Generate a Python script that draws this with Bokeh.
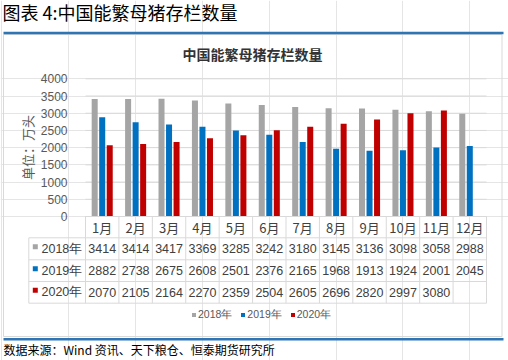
import numpy as np
from bokeh.plotting import figure
from bokeh.models import (Range1d, LinearAxis, FixedTicker, Legend, LegendItem,
                          ColumnDataSource)
from bokeh.core.properties import value
from bokeh.embed import file_html
from bokeh.resources import INLINE

# ---------------- data ----------------
months = ["1月", "2月", "3月", "4月", "5月", "6月", "7月", "8月", "9月", "10月", "11月", "12月"]
series_names = ["2018年", "2019年", "2020年"]
v2018 = [3414, 3414, 3417, 3369, 3285, 3242, 3180, 3145, 3136, 3098, 3058, 2988]
v2019 = [2882, 2738, 2675, 2608, 2501, 2376, 2165, 1968, 1913, 1924, 2001, 2045]
v2020 = [2070, 2105, 2164, 2270, 2359, 2504, 2605, 2696, 2820, 2997, 3080, None]
y_ticks = [0, 500, 1000, 1500, 2000, 2500, 3000, 3500, 4000]
page_title = "图表 4:中国能繁母猪存栏数量"
chart_title = "中国能繁母猪存栏数量"
y_label = "单位：万头"
footer = "数据来源：Wind 资讯、天下粮仓、恒泰期货研究所"

colors = ["#A5A5A5", "#0070C0", "#C00000"]
series_vals = [v2018, v2019, v2020]

# ---------------- layout (pixel geometry -> data space) ----------------
W, H = 508, 360


def fx(rx):
    return float(rx)


def fy(ry):
    return float(ry)


PL, PR, PY0, PY4000 = 85, 486, 216, 78.3
cw = (fx(PR) - fx(PL)) / 12.0
x_start = 0.5 - fx(PL) / cw
x_end = x_start + W / cw
upp = 4000.0 / (fy(PY0) - fy(PY4000))
y_top = fy(PY0) * upp
y_bottom = y_top - H * upp


def X(rx):
    return x_start + fx(rx) / cw


def Y(ry):
    return y_top - fy(ry) * upp


p = figure(width=W, height=H, x_range=Range1d(x_start, x_end), y_range=Range1d(y_bottom, y_top),
           output_backend="svg", toolbar_location=None, x_axis_location=None, y_axis_location=None,
           min_border=0, outline_line_color=None, background_fill_color="white",
           border_fill_color="white")

GRID = "#D9D9D9"
TXT = "#404040"
CJK = "Noto Sans CJK SC"
NUM = "Liberation Sans"

# outer box and blue rules
p.quad(left=[X(3)], right=[X(501.5)], top=[Y(34)], bottom=[Y(336)], fill_color=None,
       line_color=GRID, line_width=1)
p.segment(x0=[X(3), X(3)], x1=[X(503), X(503)], y0=[Y(32.5), Y(338.7)], y1=[Y(32.5), Y(338.7)],
          line_color="#2E75B6", line_width=2.5)

# grid lines
p.segment(x0=[0.5] * len(y_ticks), x1=[12.5] * len(y_ticks), y0=y_ticks, y1=y_ticks,
          line_color=GRID, line_width=1)

# bars
xs = np.arange(1, 13)
offsets = [-0.225, 0.0, 0.225]
bar_renderers = []
for vals, off, col in zip(series_vals, offsets, colors):
    top = np.array([np.nan if v is None else v for v in vals], dtype=float)
    src = ColumnDataSource(dict(x=xs + off, top=top))
    r = p.vbar(x="x", top="top", width=0.18, bottom=0, source=src, fill_color=col,
               line_color=None)
    bar_renderers.append(r)

# y axis drawn at the plot-area edge
yax = LinearAxis(fixed_location=0.5, ticker=FixedTicker(ticks=y_ticks), bounds=(0, 4000),
                 axis_line_color=None, major_tick_line_color=None, minor_tick_line_color=None,
                 major_tick_out=0, major_tick_in=0, minor_tick_out=0, minor_tick_in=0,
                 major_label_standoff=18, major_label_text_font=NUM,
                 major_label_text_font_size="12px", major_label_text_color="#595959",
                 axis_label=y_label, axis_label_text_font=CJK, axis_label_text_font_size="13px",
                 axis_label_text_font_style="normal", axis_label_text_color="#595959",
                 axis_label_standoff=1)
p.add_layout(yax, "left")

# ---------------- data table ----------------
row_edges = [216, 237.3, 259.3, 281.0, 302.7]
row_centers = [(a + b) / 2 for a, b in zip(row_edges[:-1], row_edges[1:])]
# horizontal rules
hx0 = [0.5] + [X(28.3)] * 4
hx1 = [12.5] * 5
hy = [Y(r) for r in row_edges]
p.segment(x0=hx0, x1=hx1, y0=hy, y1=hy, line_color=GRID, line_width=1)
# vertical rules
vx = [0.5 + k for k in range(13)] + [X(28.3)]
vy0 = [Y(row_edges[0])] * 13 + [Y(row_edges[1])]
vy1 = [Y(row_edges[-1])] * 14
p.segment(x0=vx, x1=vx, y0=vy0, y1=vy1, line_color=GRID, line_width=1)

# header (months)
p.text(x=xs, y=[Y(row_centers[0])] * 12, text=months, text_font=value(CJK),
       text_font_size="13px", text_color=TXT, text_align="center", text_baseline="middle")
# values
for i, vals in enumerate(series_vals):
    labels = ["" if v is None else str(v) for v in vals]
    p.text(x=xs, y=[Y(row_centers[i + 1])] * 12, text=labels, text_font=value(NUM),
           text_font_size="12.5px", text_color=TXT, text_align="center", text_baseline="middle")
# row labels with colour keys
p.scatter(x=[X(34.8)] * 3, y=[Y(c - 2) for c in row_centers[1:]], marker="square", size=5,
          fill_color=colors, line_color=None)
p.text(x=[X(41)] * 3, y=[Y(c) for c in row_centers[1:]], text=series_names, text_font=value(NUM),
       text_font_size="12.5px", text_color=TXT, text_align="left", text_baseline="middle")

# ---------------- titles and footer ----------------
p.text(x=[X(2)], y=[Y(11.5)], text=[page_title], text_font=value(CJK), text_font_size="18px",
       text_color="#000000", text_align="left", text_baseline="middle")
p.text(x=[X(252)], y=[Y(53.5)], text=[chart_title], text_font=value(CJK), text_font_size="14px",
       text_font_style="bold", text_color="#333333", text_align="center", text_baseline="middle")
p.text(x=[X(3)], y=[Y(349)], text=[footer], text_font=value(CJK), text_font_size="12px",
       text_color="#000000", text_align="left", text_baseline="middle")

# ---------------- legend ----------------
legend = Legend(items=[LegendItem(label=n, renderers=[r]) for n, r in zip(series_names, bar_renderers)],
                orientation="horizontal", location=(fx(191), H - fy(321.5)),
                glyph_width=5, glyph_height=5, label_standoff=2, spacing=8, padding=0, margin=0,
                label_height=10, label_width=10, border_line_color=None, background_fill_alpha=0,
                label_text_font=NUM, label_text_font_size="10.5px", label_text_color="#595959")
p.add_layout(legend)

open("out.html", "w").write(file_html(p, INLINE))
